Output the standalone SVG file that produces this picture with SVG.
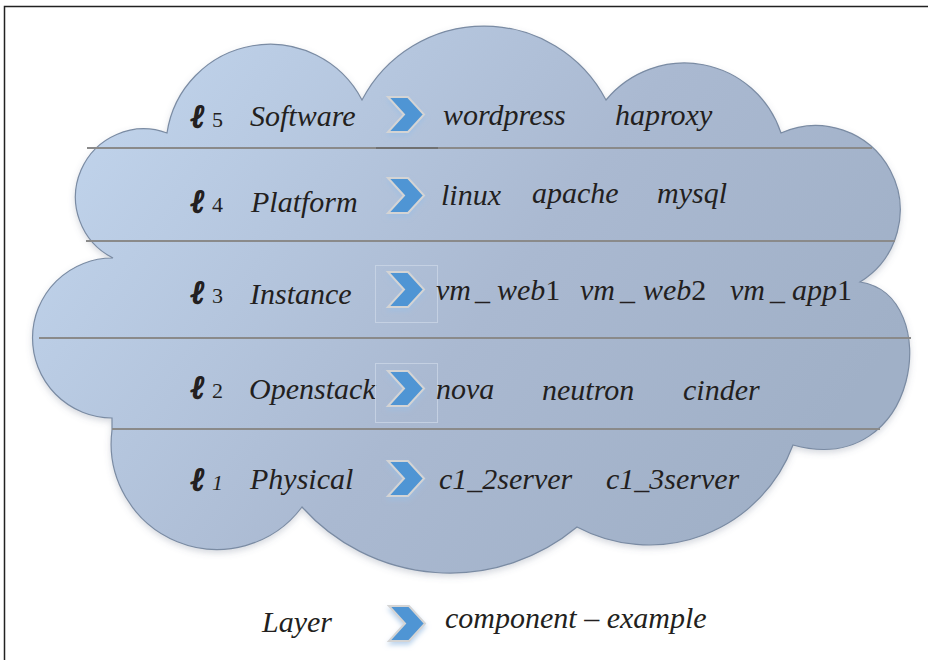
<svg xmlns="http://www.w3.org/2000/svg" width="928" height="660" viewBox="0 0 928 660">
<defs>
<linearGradient id="cg" gradientUnits="userSpaceOnUse" x1="150" y1="60" x2="760" y2="520">
<stop offset="0" stop-color="#bfd2ea"/>
<stop offset="0.55" stop-color="#aab9d1"/>
<stop offset="1" stop-color="#a0b0c7"/>
</linearGradient>
<filter id="cs" x="-5%" y="-5%" width="110%" height="115%">
<feDropShadow dx="0" dy="3" stdDeviation="3" flood-color="#5a6a80" flood-opacity="0.25"/>
</filter>
<filter id="chs" x="-30%" y="-30%" width="160%" height="170%">
<feDropShadow dx="0" dy="3" stdDeviation="2.5" flood-color="#9dbfe3" flood-opacity="0.7"/>
</filter>
<polygon id="chev" points="0,0 20,0 36,17.5 20,35 0,35 16,17.5"/>
</defs>
<style>
.t{font-family:"Liberation Serif","Times New Roman",serif;font-style:italic;font-size:30px;fill:#231f20}
.u{font-style:normal}
.ell{font-family:"DejaVu Serif","Liberation Serif",serif;font-style:italic;font-weight:bold;font-size:32px;fill:#231f20;stroke:#231f20;stroke-width:1.6;stroke-linejoin:round}
.d{font-family:"Liberation Serif",serif;font-size:22px;fill:#231f20}
.sep{stroke:#8a8a8a;stroke-width:2;fill:none}
.chev{fill:#4f95d4;stroke:#d4d4d4;stroke-width:2;stroke-linejoin:miter;filter:url(#chs)}
.box{fill:none;stroke:#cbd6e6;stroke-width:1;opacity:0.8}
</style>
<rect x="4.5" y="6.5" width="940" height="670" fill="#ffffff" stroke="#222222" stroke-width="1.5"/>
<g id="cloud">
<path filter="url(#cs)" fill="url(#cg)" stroke="#7a8ba3" stroke-width="1.2" d="M167,133 A104,104 0 0 1 362,100 A137.6,137.6 0 0 1 606,100 A101.6,101.6 0 0 1 781,133 A84.5,84.5 0 0 1 860,282 C945,295 920,480 793,445 A153.5,153.5 0 0 1 577,527 A198.6,198.6 0 0 1 302,507 A106,106 0 0 1 112,430 L112,418 A80,80 0 0 1 113,258 A68.2,68.2 0 0 1 167,133 Z"/>
</g>
<g id="connectors">
<line class="sep" x1="87" y1="148" x2="872" y2="148"/>
<line x1="376" y1="148" x2="438" y2="148" stroke="#707070" stroke-width="2"/>
<line class="sep" x1="86" y1="241" x2="895" y2="241"/>
<line class="sep" x1="39" y1="338" x2="911" y2="338"/>
<line class="sep" x1="112" y1="429" x2="880" y2="429"/>
</g>
<g id="layer5">
<text class="ell" x="191" y="127">ℓ</text><text class="d" x="212" y="127">5</text>
<text class="t" x="250" y="126">Software</text>
<use href="#chev" class="chev" x="388" y="97"/>
<text class="t" x="443" y="125">wordpress</text>
<text class="t" x="615" y="125">haproxy</text>
</g>
<g id="layer4">
<text class="ell" x="191" y="212">ℓ</text><text class="d" x="212" y="212">4</text>
<text class="t" x="251" y="212">Platform</text>
<use href="#chev" class="chev" x="388" y="178"/>
<text class="t" x="441" y="205">linux</text>
<text class="t" x="532" y="203">apache</text>
<text class="t" x="657" y="203">mysql</text>
</g>
<g id="layer3">
<text class="ell" x="191" y="303">ℓ</text><text class="d" x="212" y="303">3</text>
<text class="t" x="250" y="304">Instance</text>
<rect class="box" x="375.5" y="265.5" width="62" height="57"/>
<use href="#chev" class="chev" x="388" y="272"/>
<text class="t" y="300"><tspan x="436">vm</tspan><tspan class="u" x="475">_</tspan><tspan x="497">web</tspan><tspan class="u">1</tspan></text>
<text class="t" y="300"><tspan x="580">vm</tspan><tspan class="u" x="620">_</tspan><tspan x="643">web</tspan><tspan class="u">2</tspan></text>
<text class="t" y="300"><tspan x="730">vm</tspan><tspan class="u" x="770">_</tspan><tspan x="792">app</tspan><tspan class="u">1</tspan></text>
</g>
<g id="layer2">
<text class="ell" x="191" y="398">ℓ</text><text class="d" x="212" y="398">2</text>
<text class="t" x="249" y="399">Openstack</text>
<rect class="box" x="375.5" y="363.5" width="62" height="59"/>
<use href="#chev" class="chev" x="388" y="371"/>
<text class="t" x="436" y="399">nova</text>
<text class="t" x="542" y="400">neutron</text>
<text class="t" x="683" y="400">cinder</text>
</g>
<g id="layer1">
<text class="ell" x="191" y="490">ℓ</text><text class="d" x="212" y="490" font-style="italic">1</text>
<text class="t" x="250" y="489">Physical</text>
<use href="#chev" class="chev" x="388" y="461"/>
<text class="t" x="439" y="489">c1_2server</text>
<text class="t" x="606" y="489">c1_3server</text>
</g>
<g id="legend">
<text class="t" x="262" y="632">Layer</text>
<use href="#chev" class="chev" x="389" y="606"/>
<text class="t" x="445" y="628">component – example</text>
</g>
</svg>
